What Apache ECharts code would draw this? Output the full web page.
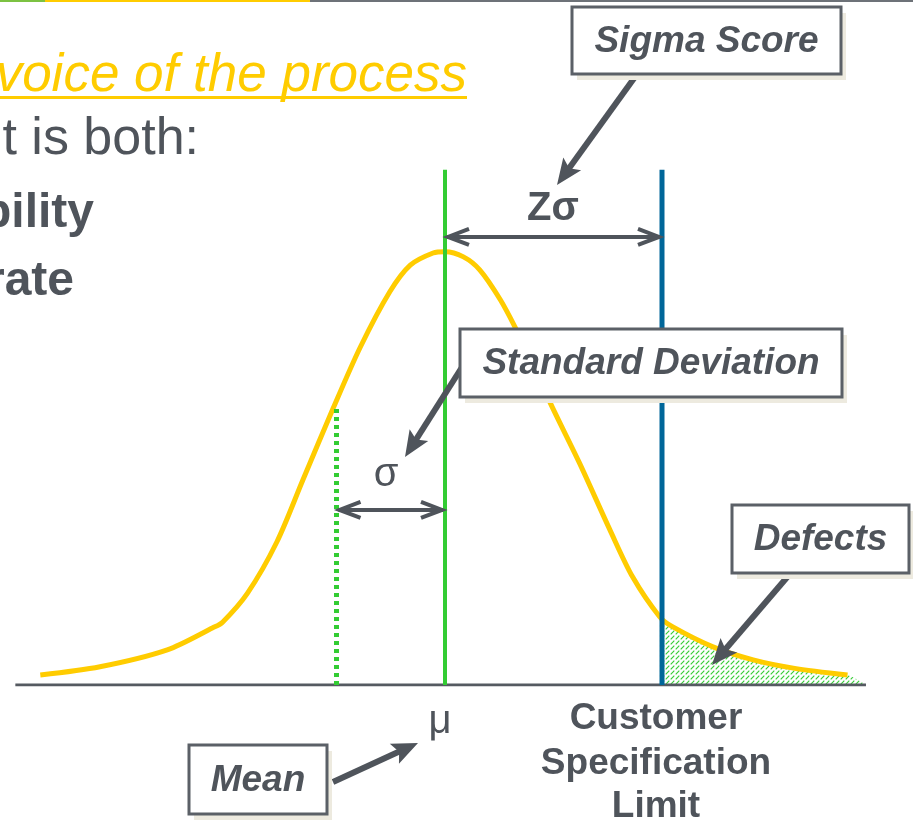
<!DOCTYPE html>
<html>
<head>
<meta charset="utf-8">
<script src="https://cdn.jsdelivr.net/npm/echarts@6/dist/echarts.min.js"></script>
<style>
  html, body { margin: 0; padding: 0; background: #fff; }
  #chart { width: 913px; height: 821px; }
</style>
</head>
<body>
<div id="chart"></div>
<script>
// x in sigma units (mean = 0), y = curve height in % of the peak
const curveX = [-3.73, -3.18, -2.56, -2.14, -2.05, -1.82, -1.55, -1.31, -1.03, -0.78, -0.51, -0.32, -0.11, 0,
  0.17, 0.32, 0.51, 0.66, 0.83, 0.97, 1.24, 1.52, 1.73, 1.98, 2.10, 2.47, 2.84, 3.21, 3.71]
const curveH = [2.3, 4.2, 8.1, 13.2, 14.5, 21.2, 33.0, 47.3, 63.9, 78.0, 90.7, 96.9, 99.7, 100,
  98.8, 95.8, 88.9, 81.9, 73.2, 65.1, 51.2, 35.8, 24.9, 15.7, 13.4, 8.8, 5.8, 3.9, 2.3]
// hatched defect tail, beyond the spec limit
const defectX = [1.98, 2.10, 2.47, 2.84, 3.21, 3.71, 3.88]
const defectH = [15.7, 13.4, 8.8, 5.8, 3.9, 2.3, 0]
const baseX = [-3.96, 3.88]
const meanX = 0
const sigmaX = -1
const specX = 2
const lineTop = 118.9
const sigmaTop = 63.9
// double arrows: [from, to] in data units
const zArrow = [[0, 103.4], [2, 103.4]]
const sArrow = [[-1, 40.4], [0, 40.4]]

const gray = '#4f545b'
const font = '"Liberation Sans", Arial, sans-serif'

const chart = echarts.init(document.getElementById('chart'))

// diagonal hatch for the defects area
const pc = document.createElement('canvas')
pc.width = 5
pc.height = 5
const pctx = pc.getContext('2d')
pctx.strokeStyle = '#33cc33'
pctx.lineWidth = 1.1
pctx.beginPath()
pctx.moveTo(0.7, 4.3)
pctx.lineTo(4.3, 0.7)
pctx.stroke()

const zip = (xs, ys) => xs.map((x, i) => [x, ys[i]])

chart.setOption({
  animation: false,
  grid: { left: 11, right: 34, top: 165, bottom: 136 },
  xAxis: { type: 'value', min: -4, max: 4, show: false },
  yAxis: { type: 'value', min: 0, max: 120, show: false },
  series: [
    {
      type: 'line', data: zip(defectX, defectH), smooth: 0.3, symbol: 'none', z: 1,
      lineStyle: { opacity: 0 },
      areaStyle: { color: { image: pc, repeat: 'repeat' }, opacity: 1 }
    },
    {
      type: 'line', data: baseX.map(x => [x, 0]), symbol: 'none', z: 2,
      lineStyle: { color: '#555a61', width: 3 }
    },
    {
      type: 'line', data: zip(curveX, curveH), smooth: 0.3, symbol: 'none', z: 3,
      lineStyle: { color: '#ffcc00', width: 5 }
    },
    {
      type: 'line', data: [[sigmaX, 0], [sigmaX, sigmaTop]], symbol: 'none', z: 4,
      lineStyle: { color: '#33cc33', width: 5, type: [4, 4] }
    },
    {
      type: 'line', data: [[meanX, 0], [meanX, lineTop]], symbol: 'none', z: 4,
      lineStyle: { color: '#33cc33', width: 4 }
    },
    {
      type: 'line', data: [[specX, 0], [specX, lineTop]], symbol: 'none', z: 4,
      lineStyle: { color: '#006699', width: 5 }
    }
  ]
})

// filled callout arrow
function callout (x1, y1, x2, y2) {
  const a = Math.atan2(y2 - y1, x2 - x1)
  const c = Math.cos(a), s = Math.sin(a)
  const hl = 26, hw = 11
  const bx = x2 - hl * c, by = y2 - hl * s
  return [
    { type: 'line', z: 10, shape: { x1, y1, x2: bx + 6 * c, y2: by + 6 * s }, style: { stroke: gray, lineWidth: 6 } },
    {
      type: 'polygon', z: 10,
      shape: { points: [[x2, y2], [bx - hw * s, by + hw * c], [x2 - hl * 0.8 * c, y2 - hl * 0.8 * s], [bx + hw * s, by - hw * c]] },
      style: { fill: gray }
    }
  ]
}

// open double arrow
function doubleArrow (p1, p2) {
  const [x1, y1] = chart.convertToPixel({ gridIndex: 0 }, p1)
  const [x2, y2] = chart.convertToPixel({ gridIndex: 0 }, p2)
  const hl = 24, hw = 8
  const st = { stroke: gray, lineWidth: 4, fill: null, lineJoin: 'miter' }
  return [
    { type: 'line', z: 10, shape: { x1: x1 + 2, y1, x2: x2 - 2, y2 }, style: st },
    { type: 'polyline', z: 10, shape: { points: [[x1 + hl, y1 - hw], [x1 + 3, y1], [x1 + hl, y1 + hw]] }, style: st },
    { type: 'polyline', z: 10, shape: { points: [[x2 - hl, y2 - hw], [x2 - 3, y2], [x2 - hl, y2 + hw]] }, style: st }
  ]
}

function box (text, x, y, w, h) {
  return [
    { type: 'rect', z: 11, shape: { x: x + 5, y: y + 6, width: w, height: h }, style: { fill: '#edeadf' } },
    { type: 'rect', z: 12, shape: { x, y, width: w, height: h }, style: { fill: '#fff', stroke: '#5b6067', lineWidth: 3 } },
    {
      type: 'text', z: 13,
      style: { text, x: x + w / 2, y: y + h / 2 + 1, align: 'center', verticalAlign: 'middle', font: 'italic bold 37px ' + font, fill: gray }
    }
  ]
}

// y is the text baseline; zrender places text by its top
function label (text, x, y, size, weight, color, align) {
  return {
    type: 'text', z: 13,
    style: {
      text, x, y: y - 0.8 * size,
      font: weight + ' ' + size + 'px ' + font,
      fill: color || gray, align: align || 'left', verticalAlign: 'top'
    }
  }
}

const graphic = [
  // top bar
  { type: 'rect', shape: { x: 0, y: 0, width: 45, height: 2 }, style: { fill: '#7cc242' } },
  { type: 'rect', shape: { x: 45, y: 0, width: 265, height: 2 }, style: { fill: '#ffcc00' } },
  { type: 'rect', shape: { x: 310, y: 0, width: 603, height: 2 }, style: { fill: '#6d7278' } },
  // slide text, cut at the left edge
  label('The voice of the process', 467, 92, 53, 'italic', '#ffcc00', 'right'),
  { type: 'rect', shape: { x: 0, y: 96, width: 467, height: 3 }, style: { fill: '#ffcc00' } },
  label('It is both:', 199, 155, 52, 'normal', gray, 'right'),
  label('Capability', 94, 228, 48, 'bold', gray, 'right'),
  label('Defect rate', 74, 296, 48, 'bold', gray, 'right'),
  // symbols
  label('Zσ', 527, 221, 40, 'bold'),
  label('σ', 386, 487, 40, 'normal', gray, 'center'),
  label('μ', 440, 734, 40, 'normal', gray, 'center'),
  label('Customer', 656, 730, 37, 'bold', gray, 'center'),
  label('Specification', 656, 775, 37, 'bold', gray, 'center'),
  label('Limit', 656, 818, 37, 'bold', gray, 'center'),
  ...doubleArrow(zArrow[0], zArrow[1]),
  ...doubleArrow(sArrow[0], sArrow[1]),
  ...callout(640, 70, 557, 185),
  ...callout(464, 364, 405, 457),
  ...callout(795, 568, 712, 665),
  ...callout(333, 782, 418, 743),
  ...box('Sigma Score', 572, 7, 269, 67),
  ...box('Standard Deviation', 460, 329, 382, 68),
  ...box('Defects', 732, 505, 177, 68),
  ...box('Mean', 189, 745, 138, 69)
]

chart.setOption({ graphic })
</script>
</body>
</html>
